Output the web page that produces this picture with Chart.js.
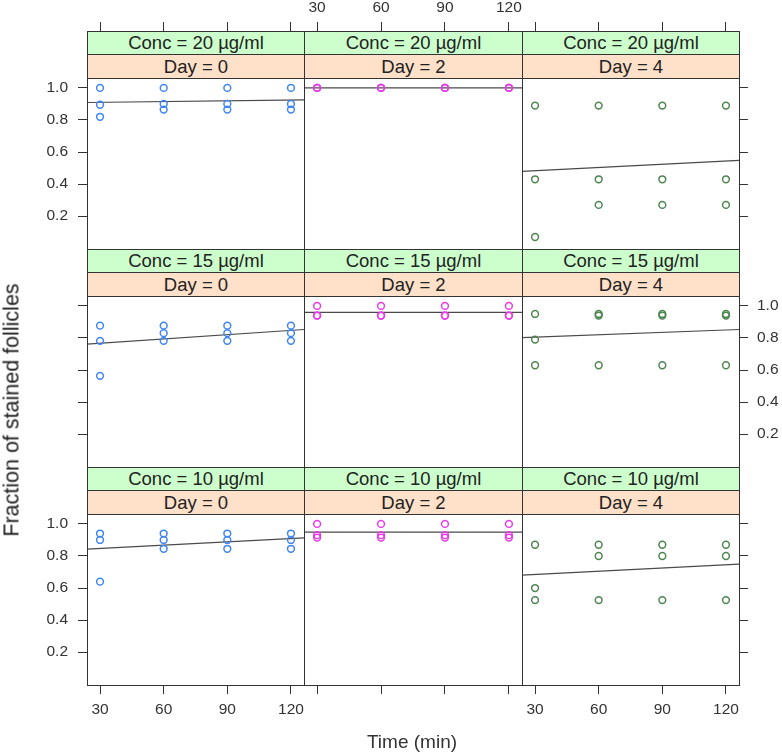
<!DOCTYPE html>
<html>
<head>
<meta charset="utf-8">
<script src="https://cdn.jsdelivr.net/npm/chart.js@4/dist/chart.umd.min.js"></script>
<style>
body { margin: 0; background: #fff; overflow: hidden; font-family: 'Liberation Sans', Arial, sans-serif; }
#page { position: relative; width: 782px; height: 752px; overflow: hidden; }
#page canvas { position: absolute; }
.strip { position: absolute; box-sizing: border-box; border: 1px solid #333; text-align: center; font-size: 18.5px; color: #222; z-index: 2; white-space: nowrap; }
.conc { background: #ccffcc; }
.day { background: #ffe0c8; }
.title { position: absolute; color: #222; white-space: nowrap; }
</style>
</head>
<body>
<div id="page"></div>
<script>
const times = [30, 60, 90, 120];
const xTicks = [30, 60, 90, 120];
const yTicks = [0.2, 0.4, 0.6, 0.8, 1.0];
const concLabels = ['Conc = 20 µg/ml', 'Conc = 15 µg/ml', 'Conc = 10 µg/ml'];
const dayLabels = ['Day = 0', 'Day = 2', 'Day = 4'];
const dayColors = ['#3f86f2', '#e83ce8', '#4e8550'];

// three replicate fractions at 30, 60, 90 and 120 min
const c20d0 = [[1.0, 0.895, 0.82], [1.0, 0.9, 0.865], [1.0, 0.9, 0.865], [1.0, 0.9, 0.865]];
const c20d2 = [[1.0, 1.0, 1.0], [1.0, 1.0, 1.0], [1.0, 1.0, 1.0], [1.0, 1.0, 1.0]];
const c20d4 = [[0.89, 0.43, 0.07], [0.89, 0.43, 0.27], [0.89, 0.43, 0.27], [0.89, 0.43, 0.27]];
const c15d0 = [[0.877, 0.782, 0.564], [0.877, 0.83, 0.782], [0.877, 0.83, 0.782], [0.877, 0.83, 0.782]];
const c15d2 = [[1.0, 0.94, 0.94], [1.0, 0.94, 0.94], [1.0, 0.94, 0.94], [1.0, 0.94, 0.94]];
const c15d4 = [[0.95, 0.79, 0.63], [0.95, 0.94, 0.63], [0.95, 0.94, 0.63], [0.95, 0.94, 0.63]];
const c10d0 = [[0.94, 0.9, 0.64], [0.94, 0.9, 0.845], [0.94, 0.9, 0.845], [0.94, 0.9, 0.845]];
const c10d2 = [[1.0, 0.93, 0.915], [1.0, 0.93, 0.915], [1.0, 0.93, 0.915], [1.0, 0.93, 0.915]];
const c10d4 = [[0.87, 0.6, 0.525], [0.87, 0.8, 0.525], [0.87, 0.8, 0.525], [0.87, 0.8, 0.525]];

const panels = [
  [c20d0, c20d2, c20d4],
  [c15d0, c15d2, c15d4],
  [c10d0, c10d2, c10d4]
];

const xMin = 23.85, xMax = 126.15;
const yMin = -0.005, yMax = 1.062;

// layout
const colLeft = [87, 304, 522];
const colWidth = [217, 218, 217];
const rowTop = [31, 249, 467];
const plotH = 171;
const L = 87, R = 43, T = 78, B = 67;
const tickFont = { family: 'Liberation Sans', size: 15.5 };
const tickColor = '#333';

Chart.defaults.font.family = 'Liberation Sans';

const panelBox = {
  id: 'panelBox',
  afterDraw(chart) {
    const a = chart.chartArea, c = chart.ctx;
    c.save();
    c.strokeStyle = '#333';
    c.lineWidth = 1;
    c.strokeRect(a.left + 0.5, a.top + 0.5, a.right - a.left, a.bottom - a.top);
    c.restore();
  }
};

function regression(pts) {
  const n = pts.length;
  const mx = pts.reduce((s, p) => s + p.x, 0) / n;
  const my = pts.reduce((s, p) => s + p.y, 0) / n;
  let sxy = 0, sxx = 0;
  pts.forEach(p => { sxy += (p.x - mx) * (p.y - my); sxx += (p.x - mx) * (p.x - mx); });
  const b = sxy / sxx;
  return x => my + b * (x - mx);
}

function makeAxis(kind, pos, showTicks, showLabels, size, tickLen, pad) {
  const isX = kind === 'x';
  return {
    type: 'linear',
    axis: kind,
    position: pos,
    min: isX ? xMin : yMin,
    max: isX ? xMax : yMax,
    afterBuildTicks: a => { a.ticks = (isX ? xTicks : yTicks).map(v => ({ value: v })); },
    afterFit: a => { if (isX) a.height = size; else a.width = size; },
    grid: { drawOnChartArea: false, drawTicks: showTicks, tickLength: tickLen, color: '#333', lineWidth: 1 },
    border: { display: false },
    ticks: {
      display: showLabels,
      padding: pad,
      font: tickFont,
      color: tickColor,
      maxRotation: 0,
      autoSkip: false,
      callback: v => isX ? String(v) : v.toFixed(1)
    }
  };
}

const page = document.getElementById('page');

for (let r = 0; r < 3; r++) {
  for (let c = 0; c < 3; c++) {
    const reps = panels[r][c];
    const pts = [];
    times.forEach((t, i) => reps[i].forEach(v => pts.push({ x: t, y: v })));
    const fit = regression(pts);

    const plotTop = rowTop[r] + 47;
    const canvas = document.createElement('canvas');
    const w = L + colWidth[c] + R, h = T + plotH + B;
    canvas.width = w; canvas.height = h;
    canvas.style.left = (colLeft[c] - L) + 'px';
    canvas.style.top = (plotTop - T) + 'px';
    canvas.style.width = w + 'px';
    canvas.style.height = h + 'px';
    page.appendChild(canvas);

    const leftTicks = c === 0, rightTicks = c === 2;
    const leftLabels = c === 0 && r !== 1, rightLabels = c === 2 && r === 1;
    const topTicks = r === 0, topLabels = r === 0 && c === 1;
    const bottomTicks = r === 2, bottomLabels = r === 2 && c !== 1;

    new Chart(canvas, {
      type: 'scatter',
      data: {
        datasets: [{
          data: pts,
          pointStyle: 'circle',
          pointRadius: 3.4,
          pointBorderWidth: 1.5,
          borderColor: dayColors[c],
          backgroundColor: 'rgba(0,0,0,0)',
          xAxisID: 'x', yAxisID: 'y'
        }, {
          data: [{ x: xMin, y: fit(xMin) }, { x: xMax, y: fit(xMax) }],
          showLine: true,
          pointRadius: 0,
          borderColor: '#4a4a4a',
          borderWidth: 1.2,
          xAxisID: 'x', yAxisID: 'y'
        }]
      },
      options: {
        responsive: false,
        animation: false,
        events: [],
        layout: { padding: 0 },
        plugins: { legend: { display: false }, tooltip: { enabled: false } },
        scales: {
          x: makeAxis('x', 'bottom', bottomTicks, bottomLabels, B, 9, 6),
          x2: makeAxis('x', 'top', topTicks, topLabels, T, 56, 5),
          y: makeAxis('y', 'left', leftTicks, leftLabels, L, 9, 10),
          y2: makeAxis('y', 'right', rightTicks, rightLabels, R, 9, 9)
        }
      },
      plugins: [panelBox]
    });

    const s1 = document.createElement('div');
    s1.className = 'strip conc';
    s1.style.left = colLeft[c] + 'px';
    s1.style.width = (colWidth[c] + 1) + 'px';
    s1.style.top = rowTop[r] + 'px';
    s1.style.height = '24px';
    s1.style.lineHeight = '22px';
    s1.textContent = concLabels[r];
    page.appendChild(s1);

    const s2 = document.createElement('div');
    s2.className = 'strip day';
    s2.style.left = colLeft[c] + 'px';
    s2.style.width = (colWidth[c] + 1) + 'px';
    s2.style.top = (rowTop[r] + 23) + 'px';
    s2.style.height = '25px';
    s2.style.lineHeight = '23px';
    s2.textContent = dayLabels[c];
    page.appendChild(s2);
  }
}

const yTitle = document.createElement('div');
yTitle.className = 'title';
yTitle.textContent = 'Fraction of stained follicles';
yTitle.style.fontSize = '21.5px';
yTitle.style.left = '12px';
yTitle.style.top = '410px';
yTitle.style.transform = 'translate(-50%, -50%) rotate(-90deg)';
page.appendChild(yTitle);

const xTitle = document.createElement('div');
xTitle.className = 'title';
xTitle.textContent = 'Time (min)';
xTitle.style.fontSize = '19px';
xTitle.style.left = '412px';
xTitle.style.top = '742px';
xTitle.style.transform = 'translate(-50%, -50%)';
xTitle.style.color = '#333';
page.appendChild(xTitle);
</script>
</body>
</html>
